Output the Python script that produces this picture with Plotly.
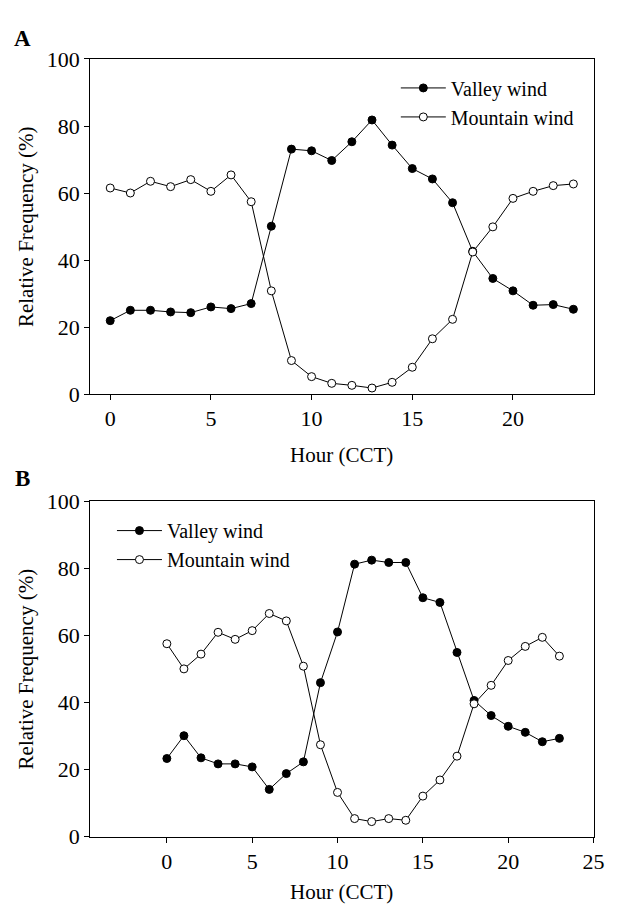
import plotly.graph_objects as go

hours = list(range(24))

# Panel A
a_valley = [21.9, 25.0, 25.0, 24.5, 24.3, 26.0, 25.5, 27.0, 50.1, 73.1, 72.6, 69.7,
            75.3, 81.8, 74.3, 67.3, 64.2, 57.1, 42.6, 34.5, 30.8, 26.5, 26.7, 25.3]
a_mountain = [61.5, 60.0, 63.5, 61.9, 64.0, 60.5, 65.4, 57.4, 30.8, 10.0, 5.2, 3.2,
              2.6, 1.8, 3.5, 8.0, 16.5, 22.3, 42.4, 49.9, 58.4, 60.5, 62.2, 62.7]

# Panel B
b_valley = [23.3, 30.1, 23.5, 21.7, 21.7, 20.8, 14.1, 18.8, 22.3, 45.9, 61.0, 81.2,
            82.4, 81.7, 81.7, 71.2, 69.8, 54.9, 40.6, 36.1, 32.9, 31.1, 28.3, 29.3]
b_mountain = [57.5, 50.0, 54.4, 60.9, 58.8, 61.4, 66.5, 64.3, 50.8, 27.4, 13.2, 5.4,
              4.5, 5.4, 4.9, 12.1, 16.9, 24.0, 39.6, 45.1, 52.5, 56.7, 59.4, 53.8]

a_xticks = [0, 5, 10, 15, 20]
b_xticks = [0, 5, 10, 15, 20, 25]
yticks = [0, 20, 40, 60, 80, 100]

FONT = "Liberation Serif"
W, H = 617, 922

def px_x(p):
    return p / W

def px_y(p):
    return 1 - p / H

fig = go.Figure()

def add_pair(valley, mountain, xa, ya, leg):
    fig.add_trace(go.Scatter(
        x=hours, y=valley, mode="lines+markers", name="Valley wind",
        xaxis=xa, yaxis=ya, legend=leg,
        line=dict(color="black", width=1),
        marker=dict(symbol="circle", size=8, color="black",
                    line=dict(color="black", width=1))))
    fig.add_trace(go.Scatter(
        x=hours, y=mountain, mode="lines+markers", name="Mountain wind",
        xaxis=xa, yaxis=ya, legend=leg,
        line=dict(color="black", width=1),
        marker=dict(symbol="circle", size=8, color="white",
                    line=dict(color="black", width=1))))

add_pair(a_valley, a_mountain, "x", "y", "legend")
add_pair(b_valley, b_mountain, "x2", "y2", "legend2")

axis_common = dict(showgrid=False, zeroline=False, showline=True, linecolor="black",
                   linewidth=1, mirror=True, ticks="outside", ticklen=5, tickwidth=1,
                   tickcolor="black", tickfont=dict(family=FONT, size=22, color="black"))

xdom = [px_x(91.7), px_x(604.3)]
leg_common = dict(xanchor="left", yanchor="top", bgcolor="rgba(0,0,0,0)", borderwidth=0,
                  itemwidth=45, font=dict(family=FONT, size=20, color="black"))
fig.update_layout(
    width=W, height=H, autosize=False,
    margin=dict(l=0, r=0, t=0, b=0),
    paper_bgcolor="white", plot_bgcolor="white",
    font=dict(family=FONT, size=21, color="black"),
    xaxis=dict(domain=xdom, range=[-1, 24], tickvals=a_xticks, anchor="y", **axis_common),
    yaxis=dict(domain=[px_y(392.7), px_y(48.3)], range=[0, 100], tickvals=yticks,
               anchor="x", **axis_common),
    xaxis2=dict(domain=xdom, range=[-4.5, 25], tickvals=b_xticks, anchor="y2", **axis_common),
    yaxis2=dict(domain=[px_y(847.7), px_y(502.7)], range=[0, 100], tickvals=yticks,
                anchor="x2", **axis_common),
    legend=dict(x=px_x(403), y=px_y(58), **leg_common),
    legend2=dict(x=px_x(114), y=px_y(513), **leg_common),
)

ann = []
def add_text(text, xp, yp, size, angle=0):
    ann.append(dict(text=text, x=px_x(xp), y=px_y(yp), xref="paper", yref="paper",
                    xanchor="center", yanchor="middle", showarrow=False, textangle=angle,
                    font=dict(family=FONT, size=size, color="black")))

add_text("<b>A</b>", 23, 27, 23)
add_text("<b>B</b>", 23, 479, 23)
for yc in [(48.3 + 392.7) / 2, (502.7 + 847.7) / 2]:
    add_text("Relative Frequency (%)", 26, yc, 21, -90)
for yc in [455, 905]:
    add_text("Hour (CCT)", 348, yc, 21)
fig.update_layout(annotations=ann)

fig.write_html("out.html")
